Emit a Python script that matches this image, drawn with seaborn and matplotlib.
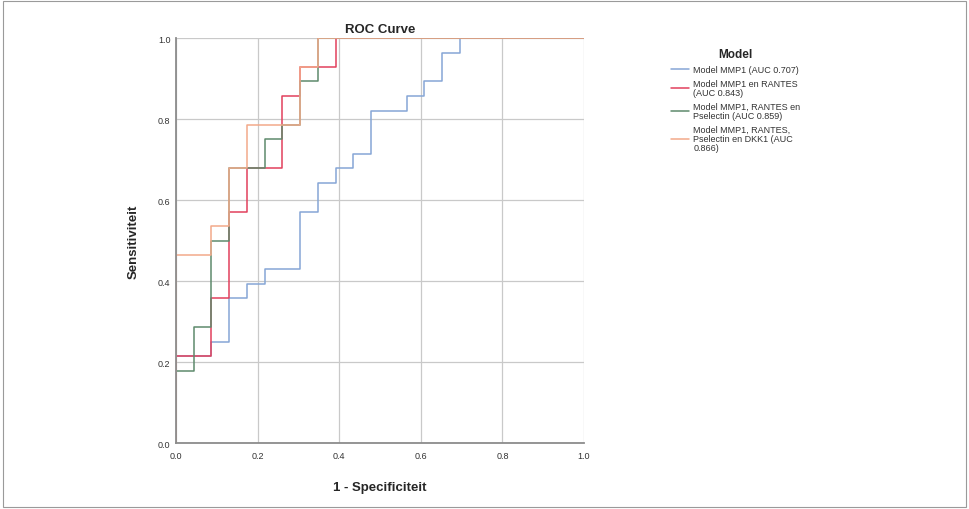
import matplotlib
matplotlib.use("Agg")
import matplotlib.pyplot as plt
from matplotlib.patches import Rectangle
import seaborn as sns
import pandas as pd

# ROC corner points (1 - specificiteit, sensitiviteit)
fpr_mmp1 = [0, 0, 0.087, 0.087, 0.13, 0.13, 0.174, 0.174, 0.217, 0.217, 0.304, 0.304, 0.348, 0.348,
            0.391, 0.391, 0.435, 0.435, 0.478, 0.478, 0.565, 0.565, 0.609, 0.609, 0.652, 0.652, 0.696, 0.696, 1.0]
tpr_mmp1 = [0, 0.214, 0.214, 0.25, 0.25, 0.357, 0.357, 0.393, 0.393, 0.429, 0.429, 0.571, 0.571, 0.643,
            0.643, 0.679, 0.679, 0.714, 0.714, 0.821, 0.821, 0.857, 0.857, 0.893, 0.893, 0.964, 0.964, 1.0, 1.0]

fpr_rantes = [0, 0, 0.087, 0.087, 0.13, 0.13, 0.174, 0.174, 0.261, 0.261, 0.304, 0.304, 0.391, 0.391, 1.0]
tpr_rantes = [0, 0.214, 0.214, 0.357, 0.357, 0.571, 0.571, 0.679, 0.679, 0.857, 0.857, 0.929, 0.929, 1.0, 1.0]

fpr_psel = [0, 0, 0.043, 0.043, 0.087, 0.087, 0.13, 0.13, 0.217, 0.217, 0.261, 0.261, 0.304, 0.304, 0.348, 0.348, 1.0]
tpr_psel = [0, 0.179, 0.179, 0.286, 0.286, 0.5, 0.5, 0.679, 0.679, 0.75, 0.75, 0.786, 0.786, 0.893, 0.893, 1.0, 1.0]

fpr_dkk1 = [0, 0, 0.087, 0.087, 0.13, 0.13, 0.174, 0.174, 0.304, 0.304, 0.348, 0.348, 1.0]
tpr_dkk1 = [0, 0.464, 0.464, 0.536, 0.536, 0.679, 0.679, 0.786, 0.786, 0.929, 0.929, 1.0, 1.0]

model_names = [
    "Model MMP1 (AUC 0.707)",
    "Model MMP1 en RANTES\n(AUC 0.843)",
    "Model MMP1, RANTES en\nPselectin (AUC 0.859)",
    "Model MMP1, RANTES,\nPselectin en DKK1 (AUC\n0.866)",
]
line_colors = ["#86a6d6", "#e2405c", "#5e8a6c", "#f3a98a"]

ticks = [0.0, 0.2, 0.4, 0.6, 0.8, 1.0]
tick_labels = ["0.0", "0.2", "0.4", "0.6", "0.8", "1.0"]

curves = [(fpr_mmp1, tpr_mmp1), (fpr_rantes, tpr_rantes), (fpr_psel, tpr_psel), (fpr_dkk1, tpr_dkk1)]
frames = []
for name, (fx, ty) in zip(model_names, curves):
    frames.append(pd.DataFrame({"fpr": fx, "tpr": ty, "Model": name}))
df = pd.concat(frames, ignore_index=True)

sns.set_style("white")
plt.rcParams["font.family"] = ["Liberation Sans", "DejaVu Sans"]

fig = plt.figure(figsize=(9.69, 5.10), dpi=100)
ax = fig.add_axes([0.1816, 0.1294, 0.4211, 0.7941])

sns.lineplot(data=df, x="fpr", y="tpr", hue="Model", palette=line_colors,
             sort=False, estimator=None, linewidth=1.1, ax=ax, legend=False)

ax.set_xlim(0, 1)
ax.set_ylim(0, 1)
ax.set_xticks(ticks)
ax.set_yticks(ticks)
ax.set_xticklabels(tick_labels, fontsize=6.5, color="#333333")
ax.set_yticklabels(tick_labels, fontsize=6.5, color="#333333")
ax.tick_params(axis="x", length=0, pad=6)
ax.tick_params(axis="y", length=0, pad=4)
ax.grid(True, color="#c9c9c9", linewidth=0.9)
ax.set_axisbelow(True)
for side in ["top", "right"]:
    ax.spines[side].set_visible(False)
for side in ["left", "bottom"]:
    ax.spines[side].set_color("#8c8c8c")
    ax.spines[side].set_linewidth(1.3)

ax.set_title("ROC Curve", fontsize=9.5, fontweight="bold", pad=4)
ax.set_xlabel("1 - Specificiteit", fontsize=9.5, fontweight="bold", labelpad=15)
ax.set_ylabel("Sensitiviteit", fontsize=9.5, fontweight="bold", labelpad=13)

handles = [plt.Line2D([], [], color=c, linewidth=1.1) for c in line_colors]
leg = fig.legend(handles, model_names, title="Model", loc="upper left",
                 bbox_to_anchor=(0.684, 0.92), frameon=False, fontsize=6.5,
                 title_fontproperties={"weight": "bold", "size": 8.5},
                 handlelength=2.0, handletextpad=0.5, labelspacing=0.55)
for t in leg.get_texts():
    t.set_color("#333333")
    t.set_linespacing(1.0)

# thin frame around the whole picture
fig.patches.append(Rectangle((0.003, 0.004), 0.994, 0.992, transform=fig.transFigure,
                             fill=False, edgecolor="#9a9a9a", linewidth=0.8))

fig.savefig("out.png", dpi=100)
